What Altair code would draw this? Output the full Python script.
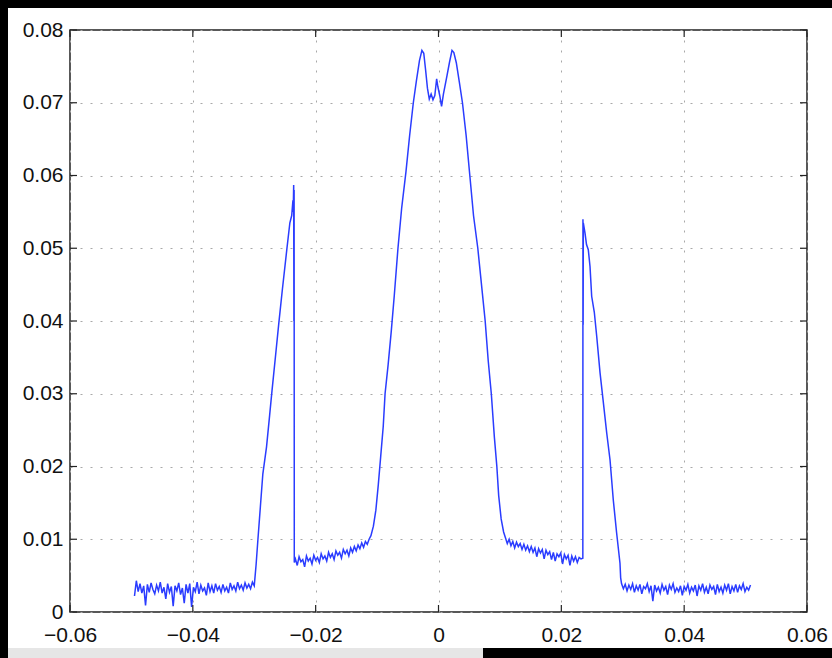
import altair as alt
import pandas as pd

# ---------------- data (y in units of 1e-3) ----------------
left_base_start, step = -0.0495, 0.0003
left_base = [2.2, 4.3, 2.8, 3.9, 2.6, 3.6, 0.9, 3.8, 2.7, 4.0, 3.1, 2.5, 3.7, 2.9, 4.1, 2.6,
             3.4, 1.8, 3.9, 2.7, 3.5, 0.8, 3.6, 2.9, 4.0, 2.4, 3.3, 1.2, 3.8, 2.6, 3.9, 0.7,
             3.4, 2.8, 4.1, 2.5, 3.7, 2.9, 3.3, 2.3, 4.0, 2.8, 3.6, 2.6, 3.9, 3.0, 3.5, 2.7,
             3.8, 2.9, 3.4, 2.6, 4.0, 3.1, 3.6, 2.9, 4.1, 3.2, 3.7, 3.0, 4.0, 3.3, 3.8, 3.2,
             4.1, 3.6]

ramp_left_x = [-0.0297, -0.0294, -0.0290, -0.0286, -0.0280, -0.0275, -0.0271, -0.0265,
               -0.0260, -0.0254, -0.0247, -0.0242, -0.0239, -0.0237, -0.02365, -0.02358,
               -0.02354, -0.02351, -0.02348]
ramp_left_y = [6.5, 10.0, 14.5, 19.0, 22.7, 27.0, 30.5, 35.5,
               39.7, 44.5, 49.8, 53.5, 54.5, 56.6, 55.0, 58.7,
               40.0, 58.0, 6.8]

mid_left_start = -0.0233
mid_left = [7.3, 6.4, 7.6, 6.9, 7.2, 6.2, 7.7, 7.0, 7.4, 6.6, 7.8, 7.1, 7.5, 6.8, 8.0, 7.3,
            7.7, 7.0, 8.2, 7.5, 8.0, 7.2, 8.4, 7.8, 8.2, 7.4, 8.6, 8.0, 8.5, 7.7, 8.8, 8.2,
            9.0, 8.4, 9.2, 8.7, 9.5, 8.9, 9.7, 9.3, 10.0]

hump_x = [-0.0110, -0.0106, -0.0102, -0.0098, -0.0094, -0.0090, -0.0087, -0.0082, -0.0077,
          -0.0072, -0.0066, -0.0060, -0.0053, -0.0047, -0.0041, -0.0036, -0.0031, -0.0027,
          -0.0024, -0.0021, -0.0018, -0.0015, -0.0012, -0.0009, -0.0006, -0.0003, -0.0001,
          0.0002, 0.0005, 0.0008, 0.0011, 0.0014, 0.0018, 0.0022, 0.0025, 0.0029, 0.0034,
          0.0039, 0.0045, 0.0051, 0.0057, 0.0064, 0.0070, 0.0076, 0.0081, 0.0086, 0.0091,
          0.0095, 0.0098, 0.0102, 0.0106]
hump_y = [10.5, 11.8, 14.0, 17.5, 21.5, 25.5, 30.0, 34.0, 38.5,
          43.5, 50.0, 55.5, 60.5, 65.5, 70.0, 73.0, 75.8, 77.2,
          76.8, 74.5, 72.0, 70.5, 71.2, 70.4, 71.0, 73.3, 72.2,
          71.0, 69.5, 71.2, 72.5, 73.8, 75.6, 77.2, 76.9, 75.5, 72.8,
          70.0, 65.5, 60.0, 54.5, 50.0, 45.0, 40.0, 34.5, 30.0, 24.0,
          20.0, 16.0, 12.8, 11.0]

mid_right_start = 0.0109
mid_right = [10.2, 9.4, 10.0, 9.1, 9.7, 8.8, 9.6, 9.0, 9.4, 8.6, 9.3, 8.5, 9.1, 8.3, 9.0, 8.2,
             8.8, 7.6, 8.7, 8.1, 8.6, 7.3, 8.5, 7.9, 8.3, 7.2, 8.2, 7.0, 8.0, 7.6, 8.1, 6.6,
             7.9, 7.3, 7.8, 6.4, 7.7, 7.0, 7.6, 6.8, 7.5, 7.3]

ramp_right_x = [0.02350, 0.02352, 0.02355, 0.02358, 0.02385, 0.02410, 0.02439, 0.02467,
                0.02494, 0.02537, 0.02576, 0.02630, 0.02679, 0.02739, 0.02793, 0.02846,
                0.02900, 0.02955, 0.02966]
ramp_right_y = [7.4, 54.0, 39.5, 53.5, 52.1, 50.5, 49.8, 47.5,
                43.4, 41.2, 37.9, 32.9, 29.2, 24.6, 20.9, 15.4,
                10.9, 6.7, 4.7]

right_base_start = 0.0298
right_base = [3.9, 3.2, 3.8, 2.9, 3.7, 3.1, 3.9, 2.7, 3.6, 3.0, 3.8, 2.5, 3.5, 3.2, 3.9, 2.8,
              3.6, 1.5, 3.7, 2.9, 3.4, 2.6, 3.8, 3.0, 3.5, 2.4, 3.7, 3.1, 3.9, 2.7, 3.3, 2.8,
              3.6, 2.3, 3.5, 3.0, 3.8, 2.6, 3.4, 2.9, 3.7, 2.2, 3.6, 3.0, 3.9, 2.7, 3.4, 2.5,
              3.7, 3.1, 3.5, 2.4, 3.8, 2.8, 3.4, 2.6, 3.7, 3.0, 3.9, 2.5, 3.5, 2.9, 3.8, 2.7,
              3.6, 3.1, 3.9, 2.8, 3.4, 3.0, 3.7]

x_ticks = [-0.06, -0.04, -0.02, 0.0, 0.02, 0.04, 0.06]
y_ticks = [0.0, 0.01, 0.02, 0.03, 0.04, 0.05, 0.06, 0.07, 0.08]

# ---------------- assemble ----------------
xs, ys = [], []
def add_even(start, vals):
    for i, v in enumerate(vals):
        xs.append(round(start + step * i, 6)); ys.append(v * 1e-3)
def add_pts(px, py):
    for a, b in zip(px, py):
        xs.append(a); ys.append(b * 1e-3)

add_even(left_base_start, left_base)
add_pts(ramp_left_x, ramp_left_y)
add_even(mid_left_start, mid_left)
add_pts(hump_x, hump_y)
add_even(mid_right_start, mid_right)
add_pts(ramp_right_x, ramp_right_y)
add_even(right_base_start, right_base)

df = pd.DataFrame({"x": xs, "y": ys, "i": range(len(xs))})

W, H = 737, 582
PL, PT, PR, PB = 70, 30, 25, 46
FONT = "Liberation Sans"
FS = 21
TICK = 7

xscale = alt.Scale(domain=[-0.06, 0.06], nice=False, zero=False)
yscale = alt.Scale(domain=[0, 0.08], nice=False, zero=False)

one = pd.DataFrame({"k": [0]})

# figure frame (black border strips around the white figure area)
frame = alt.Chart(one).mark_rect(color="black").encode(
    x=alt.value(-PL), x2=alt.value(W + PR), y=alt.value(-PT), y2=alt.value(-PT + 8))
frame_l = alt.Chart(one).mark_rect(color="black").encode(
    x=alt.value(-PL), x2=alt.value(-PL + 8), y=alt.value(-PT), y2=alt.value(H + PB))
frame_b = alt.Chart(one).mark_rect(color="black").encode(
    x=alt.value(-PL), x2=alt.value(W + PR), y=alt.value(H + 36), y2=alt.value(H + PB))
frame_g = alt.Chart(one).mark_rect(color="#e6e6e6").encode(
    x=alt.value(-PL + 8), x2=alt.value(413), y=alt.value(H + 36), y2=alt.value(H + PB))

line = alt.Chart(df).mark_line(color="#2a3cff", strokeWidth=1.5, clip=True).encode(
    x=alt.X("x:Q", scale=xscale,
            axis=alt.Axis(values=x_ticks, format="~g", title=None, grid=True, domain=False,
                          ticks=False, labelFlush=False, labelPadding=12)),
    y=alt.Y("y:Q", scale=yscale,
            axis=alt.Axis(values=y_ticks, format="~g", title=None, grid=True, domain=False,
                          ticks=False, labelFlush=False, labelPadding=7)),
    order="i:Q",
)

xt = pd.DataFrame({"t": x_ticks})
yt = pd.DataFrame({"t": y_ticks})
tick_b = alt.Chart(xt).mark_rule(color="#222", strokeWidth=1.2).encode(
    x=alt.X("t:Q", scale=xscale), y=alt.value(H), y2=alt.value(H - TICK))
tick_t = alt.Chart(xt).mark_rule(color="#222", strokeWidth=1.2).encode(
    x=alt.X("t:Q", scale=xscale), y=alt.value(0), y2=alt.value(TICK))
tick_l = alt.Chart(yt).mark_rule(color="#222", strokeWidth=1.2).encode(
    y=alt.Y("t:Q", scale=yscale), x=alt.value(0), x2=alt.value(TICK))
tick_r = alt.Chart(yt).mark_rule(color="#222", strokeWidth=1.2).encode(
    y=alt.Y("t:Q", scale=yscale), x=alt.value(W), x2=alt.value(W - TICK))

chart = alt.layer(frame, frame_l, frame_b, frame_g, line, tick_b, tick_t, tick_l, tick_r).properties(
    width=W, height=H,
    autosize=alt.AutoSizeParams(type="none"),
    padding={"left": PL, "top": PT, "right": PR, "bottom": PB},
    background="white",
).configure_view(
    stroke="#222", strokeWidth=1.5, fill="white"
).configure_axis(
    labelFont=FONT, labelFontSize=FS, labelColor="#111",
    gridColor="#a8a8a8", gridDash=[2, 8], gridWidth=1, gridOpacity=1,
)

chart.save("out.html", embed_options={"renderer": "svg", "actions": False})
